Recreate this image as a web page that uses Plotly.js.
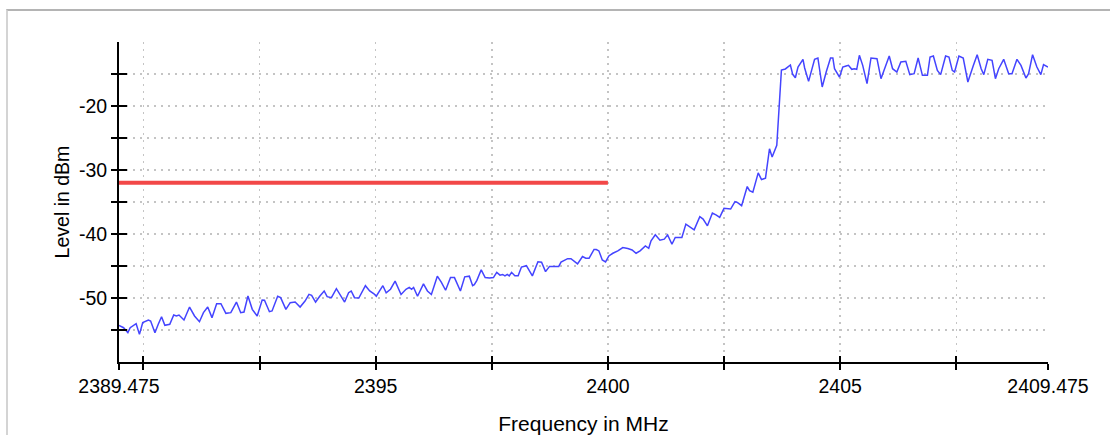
<!DOCTYPE html>
<html>
<head>
<meta charset="utf-8">
<script src="https://cdn.plot.ly/plotly-3.0.1.min.js"></script>
<style>
  html, body { margin: 0; padding: 0; background: #fff; }
  #wrap { position: relative; width: 1110px; height: 435px; overflow: hidden; }
  #chart { position: absolute; left: 0; top: 0; width: 1110px; height: 435px; }
  #frame { position: absolute; left: 6px; top: 9px; width: 1120px; height: 424px;
           border-top: 2px solid #b4b4b4; border-left: 2px solid #d4d4d4; border-bottom: 2px solid #d4d4d4;
           pointer-events: none; }
</style>
</head>
<body>
<div id="wrap">
  <div id="chart"></div>
  <div id="frame"></div>
</div>
<script>
// Measured spectrum (frequency in MHz, level in dBm)
const freq = [
  2389.475, 2389.574, 2389.666, 2389.716, 2389.844, 2389.915, 2389.986, 2390.107, 2390.156, 2390.249,
  2390.320, 2390.391, 2390.462, 2390.568, 2390.653, 2390.710, 2390.767, 2390.874, 2390.994, 2391.101,
  2391.207, 2391.293, 2391.385, 2391.477, 2391.577, 2391.669, 2391.776, 2391.882, 2392.003, 2392.095,
  2392.166, 2392.251, 2392.344, 2392.450, 2392.557, 2392.607, 2392.713, 2392.770, 2392.891, 2392.955,
  2393.068, 2393.161, 2393.267, 2393.374, 2393.480, 2393.565, 2393.622, 2393.707, 2393.800, 2393.892,
  2393.956, 2394.048, 2394.155, 2394.226, 2394.332, 2394.418, 2394.474, 2394.545,
  2394.638, 2394.780, 2394.872, 2394.964, 2395.014, 2395.085, 2395.156, 2395.227, 2395.320, 2395.419,
  2395.547, 2395.653, 2395.724, 2395.774, 2395.817, 2395.902, 2396.030, 2396.115, 2396.200, 2396.328,
  2396.413, 2396.506, 2396.612, 2396.697, 2396.825, 2396.918, 2397.017, 2397.088, 2397.124, 2397.180,
  2397.273, 2397.358, 2397.450, 2397.536, 2397.607, 2397.678, 2397.734, 2397.784, 2397.834, 2397.876,
  2397.926, 2397.997, 2398.068, 2398.139, 2398.246, 2398.374, 2398.494, 2398.572, 2398.658, 2398.743,
  2398.942, 2398.991, 2399.134, 2399.205, 2399.347, 2399.453, 2399.524, 2399.595, 2399.702, 2399.751,
  2399.807, 2399.879, 2399.950, 2400.021, 2400.107, 2400.214, 2400.321, 2400.429, 2400.521, 2400.607,
  2400.693, 2400.807, 2400.879, 2400.929, 2401.021, 2401.121, 2401.214, 2401.286, 2401.379, 2401.450,
  2401.593, 2401.679, 2401.771, 2401.857, 2401.979, 2402.050, 2402.143, 2402.250, 2402.336, 2402.407,
  2402.500, 2402.571, 2402.643, 2402.736, 2402.786, 2402.879, 2403.000, 2403.050, 2403.121, 2403.236,
  2403.307, 2403.393, 2403.479, 2403.536, 2403.636, 2403.736, 2403.821, 2403.929, 2403.979, 2404.036,
  2404.093, 2404.200, 2404.236, 2404.321, 2404.450, 2404.521, 2404.614, 2404.700, 2404.793, 2404.843,
  2404.879, 2404.986, 2405.057, 2405.129, 2405.179, 2405.250, 2405.307, 2405.357, 2405.414, 2405.486,
  2405.579, 2405.664, 2405.793, 2405.879, 2405.986, 2406.057, 2406.129, 2406.221, 2406.307, 2406.414,
  2406.500, 2406.593, 2406.679, 2406.771, 2406.879, 2406.936, 2407.007, 2407.093, 2407.164, 2407.271,
  2407.343, 2407.414, 2407.464, 2407.557, 2407.650, 2407.750, 2407.864, 2407.950, 2408.036, 2408.093,
  2408.179, 2408.271, 2408.343, 2408.414, 2408.521, 2408.629, 2408.700, 2408.807, 2408.893, 2409.000,
  2409.057, 2409.143, 2409.236, 2409.321, 2409.379, 2409.475
];
const level = [
  -54.30, -54.64, -55.42, -54.64, -54.01, -55.68, -53.85, -53.44, -53.59, -55.42,
  -54.11, -52.92, -54.27, -54.11, -52.66, -52.81, -52.66, -53.44, -51.41, -52.81,
  -53.70, -52.29, -51.41, -53.07, -50.89, -50.89, -52.40, -52.29, -50.63, -52.29,
  -52.19, -49.69, -51.77, -52.81, -50.31, -50.36, -52.14, -52.03, -49.74, -49.95,
  -51.77, -50.73, -50.63, -51.41, -50.47, -49.43, -49.58, -50.63, -49.69, -48.91,
  -49.79, -49.95, -48.54, -49.43, -50.63, -49.17, -48.91, -49.95,
  -50.00, -48.08, -48.90, -49.34, -49.73, -48.90, -48.08, -49.18, -48.63, -47.36,
  -49.45, -48.63, -48.35, -48.63, -48.35, -49.73, -47.80, -48.90, -49.45, -46.59,
  -47.53, -48.79, -46.81, -46.81, -48.90, -46.70, -46.59, -48.08, -47.91, -47.25,
  -45.60, -46.81, -46.87, -46.81, -45.99, -46.43, -46.32, -46.54, -46.32, -46.54,
  -45.99, -46.54, -46.54, -45.17, -44.95, -46.54, -44.34, -44.40, -45.88, -45.06,
  -45.06, -44.40, -43.85, -43.85, -44.67, -43.52, -43.79, -43.79, -42.42, -42.42,
  -42.64, -44.06, -44.37, -43.43, -43.01, -42.64, -42.12, -42.28, -42.49, -43.01,
  -42.64, -41.86, -42.23, -41.07, -40.13, -40.97, -40.81, -40.13, -41.60, -40.55,
  -40.55, -38.46, -38.98, -39.35, -37.30, -37.67, -38.72, -36.73, -37.04, -37.41,
  -35.99, -36.10, -36.10, -34.95, -35.05, -35.58, -32.59, -33.22, -33.48, -30.45,
  -31.49, -31.28, -26.68, -27.98, -26.15, -14.37, -14.21, -13.59, -15.05, -15.58,
  -13.91, -12.71, -14.06, -16.15, -12.71, -12.50, -17.03, -14.69, -12.50, -12.50,
  -14.17, -15.47, -13.91, -13.75, -13.65, -14.27, -14.17, -14.27, -12.08, -13.65,
  -16.51, -12.50, -12.60, -15.73, -13.65, -12.19, -14.17, -14.69, -13.13, -13.02,
  -15.10, -14.95, -12.50, -15.21, -15.21, -12.34, -12.19, -14.43, -15.10, -12.19,
  -12.34, -14.43, -14.69, -12.19, -12.50, -16.25, -13.75, -11.98, -14.17, -15.10,
  -12.71, -12.86, -15.73, -14.17, -12.71, -14.95, -14.95, -12.71, -13.65, -15.63,
  -14.95, -11.98, -13.91, -15.10, -13.54, -13.91
];

// Limit line
const limitFreq = [2389.475, 2400];
const limitLevel = [-32, -32];

// Axis ranges and ticks
const xRange = [2389.475, 2409.475];
const yRange = [-60, -10];
const xTickVals = [2389.475, 2390, 2392.5, 2395, 2397.5, 2400, 2402.5, 2405, 2407.5, 2409.475];
const xTickText = ['2389.475', '', '', '2395', '', '2400', '', '2405', '', '2409.475'];
const yTickVals = [-55, -50, -45, -40, -35, -30, -25, -20, -15];
const yTickText = ['', '-50', '', '-40', '', '-30', '', '-20', ''];

const FONT = 'Liberation Sans, Arial, Helvetica, sans-serif';

const traces = [
  {
    x: freq, y: level, type: 'scatter', mode: 'lines',
    line: { color: '#4444ff', width: 1.5 },
    xaxis: 'x', yaxis: 'y', hoverinfo: 'skip'
  },
  {
    x: limitFreq, y: limitLevel, type: 'scatter', mode: 'lines',
    line: { color: '#f24848', width: 4 },
    xaxis: 'x2', yaxis: 'y2', hoverinfo: 'skip'
  }
];

const layout = {
  width: 1110, height: 435,
  margin: { l: 119, r: 62, t: 42, b: 73, pad: 0 },
  paper_bgcolor: 'rgba(0,0,0,0)', plot_bgcolor: 'rgba(0,0,0,0)',
  showlegend: false,
  font: { family: FONT, color: '#000' },
  xaxis: {
    range: xRange, fixedrange: true,
    tickmode: 'array', tickvals: xTickVals, ticktext: xTickText,
    ticks: 'outside', ticklen: 6, tickwidth: 2, tickcolor: '#000',
    tickfont: { family: FONT, size: 19.5, color: '#000' },
    showline: true, linecolor: '#000', linewidth: 2,
    showgrid: true, gridcolor: '#c4c4c4', gridwidth: 1.5, griddash: '2px,5px',
    zeroline: false,
    title: { text: 'Frequency in MHz', font: { family: FONT, size: 21, color: '#000' } }
  },
  yaxis: {
    range: yRange, fixedrange: true,
    tickmode: 'array', tickvals: yTickVals, ticktext: yTickText,
    ticks: 'outside', ticklen: 6, tickwidth: 2, tickcolor: '#000',
    tickfont: { family: FONT, size: 19.5, color: '#000' },
    showline: true, linecolor: '#000', linewidth: 2,
    showgrid: true, gridcolor: '#c4c4c4', gridwidth: 1.5, griddash: '2px,5px',
    zeroline: false,
    title: { text: 'Level in dBm', font: { family: FONT, size: 19.5, color: '#000' } }
  },
  xaxis2: {
    range: xRange, overlaying: 'x', anchor: 'y2', side: 'bottom', fixedrange: true,
    tickmode: 'array', tickvals: xTickVals,
    ticks: 'inside', ticklen: 6, tickwidth: 2, tickcolor: '#000',
    showticklabels: false, showgrid: false, showline: false, zeroline: false
  },
  yaxis2: {
    range: yRange, overlaying: 'y', anchor: 'x2', side: 'left', fixedrange: true,
    tickmode: 'array', tickvals: yTickVals,
    ticks: 'inside', ticklen: 8, tickwidth: 2, tickcolor: '#000',
    showticklabels: false, showgrid: false, showline: false, zeroline: false
  }
};

Plotly.newPlot('chart', traces, layout, { displayModeBar: false, staticPlot: true });
</script>
</body>
</html>
